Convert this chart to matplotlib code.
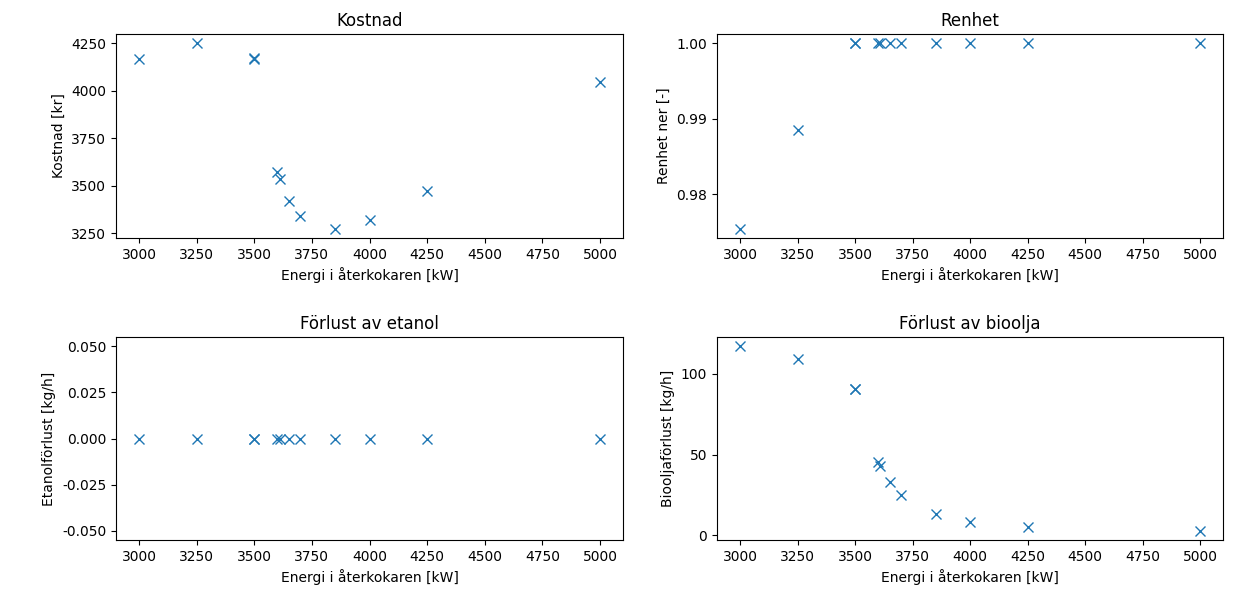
import matplotlib
matplotlib.use("Agg")
import matplotlib.pyplot as plt
from matplotlib.ticker import MultipleLocator, FormatStrFormatter

# Reboiler duty [kW]
energi = [3000, 3250, 3500, 3500, 3600, 3610, 3650, 3700, 3850, 4000, 4250, 5000]

# Results per reboiler duty
kostnad = [4165, 4250, 4170, 4167, 3573, 3534, 3419, 3339, 3273, 3319, 3472, 4044]
renhet = [0.97545, 0.98848, 1.0, 1.0, 1.0, 1.0, 1.0, 1.0, 1.0, 1.0, 1.0, 1.0]
etanolforlust = [0.0] * 12
bioljeforlust = [117.2, 109.3, 90.7, 90.5, 45.4, 42.9, 33.2, 25.3, 13.1, 8.3, 5.0, 2.9]

xlabel = "Energi i återkokaren [kW]"
xticks = [3000, 3250, 3500, 3750, 4000, 4250, 4500, 4750, 5000]

W, H = 1234, 598
fig = plt.figure(figsize=(W / 100, H / 100), dpi=100)

def box(l, r, t, b):
    return [l / W, 1 - b / H, (r - l) / W, (b - t) / H]

panels = [
    (box(116, 623, 34, 238), kostnad, "Kostnad", "Kostnad [kr]", 250, "%d"),
    (box(717, 1223, 34, 238), renhet, "Renhet", "Renhet ner [-]", 0.01, "%.2f"),
    (box(116, 623, 337, 540), etanolforlust, "Förlust av etanol", "Etanolförlust [kg/h]", 0.025, "%.3f"),
    (box(717, 1223, 337, 540), bioljeforlust, "Förlust av bioolja", "Biooljaförlust [kg/h]", 50, "%d"),
]

for rect, values, title, ylabel, step, fmt in panels:
    ax = fig.add_axes(rect)
    ax.plot(energi, values, "x", color="#1f77b4", markersize=7)
    ax.set_title(title, fontsize=12)
    ax.set_xlabel(xlabel)
    ax.set_ylabel(ylabel)
    ax.set_xticks(xticks)
    ax.yaxis.set_major_locator(MultipleLocator(step))
    ax.yaxis.set_major_formatter(FormatStrFormatter(fmt))

fig.savefig("out.png", dpi=100)
